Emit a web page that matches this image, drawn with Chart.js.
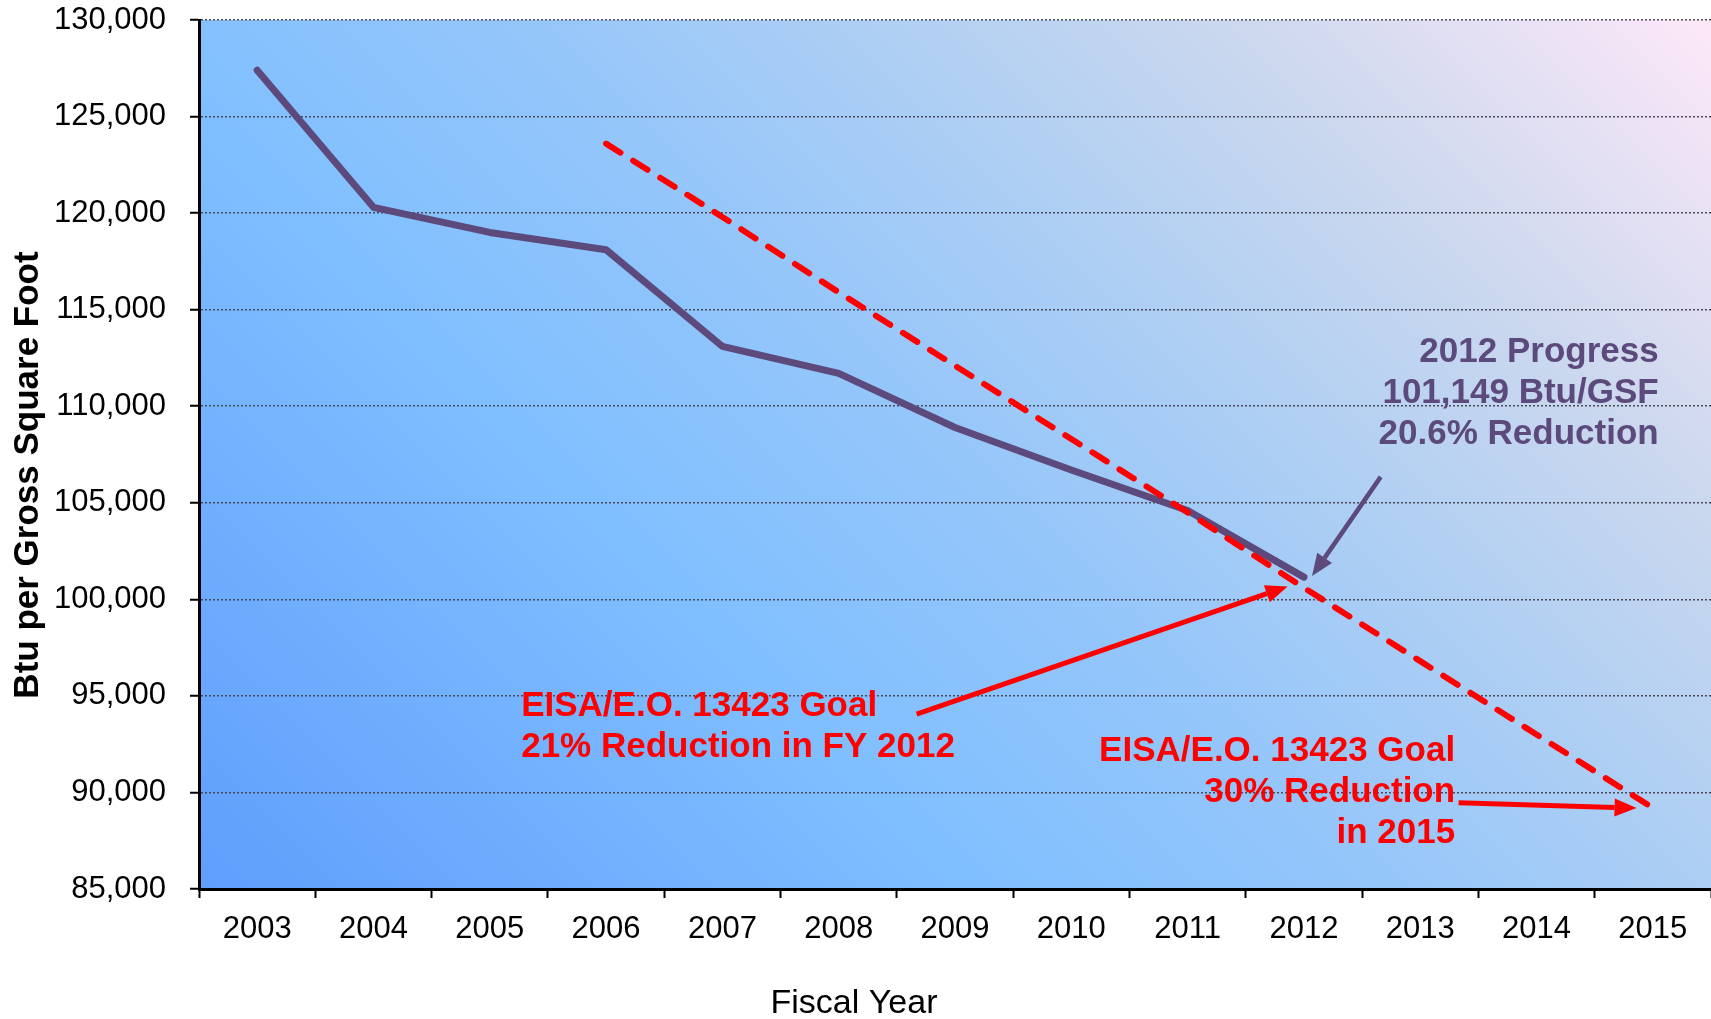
<!DOCTYPE html>
<html>
<head>
<meta charset="utf-8">
<script src="https://cdn.jsdelivr.net/npm/chart.js@4/dist/chart.umd.min.js"></script>
<style>
    body { margin: 0; background: #fff; }
    #wrap { width: 1711px; height: 1019px; position: relative; }
</style>
</head>
<body>
<div id="wrap"><canvas id="grafico"></canvas></div>
<script>
// Dados do gráfico
const anos = ['2003', '2004', '2005', '2006', '2007', '2008', '2009', '2010', '2011', '2012', '2013', '2014', '2015'];
const progresso = [127400, 120300, 119000, 118100, 113100, 111700, 108900, 106700, 104600, 101149, null, null, null];
const meta = [null, null, null, 123600, 119800, 115900, 112100, 108300, 104500, 100600, 96800, 93000, 89200];
const eixoY = { min: 85000, max: 130000, passo: 5000 };

const ROXO = '#5c4a7c';
const VERMELHO = '#ff0000';
const FONTE = '"Liberation Sans", Arial, sans-serif';

// Anotações em coordenadas de dados (índice da categoria, valor)
const textos = [
    { x: 12.05, y: 112780, align: 'right', cor: ROXO,
      linhas: ['2012 Progress', '101,149 Btu/GSF', '20.6% Reduction'] },
    { x: 2.27, y: 94440, align: 'left', cor: VERMELHO,
      linhas: ['EISA/E.O. 13423 Goal', '21% Reduction in FY 2012'] },
    { x: 10.3, y: 92150, align: 'right', cor: VERMELHO,
      linhas: ['EISA/E.O. 13423 Goal', '30% Reduction', 'in 2015'] }
];
const setas = [
    { de: [9.66, 106340], para: [9.07, 101210], cor: ROXO, largura: 4.5 },
    { de: [5.67, 94060], para: [8.86, 100660], cor: VERMELHO, largura: 5 },
    { de: [10.33, 89460], para: [11.86, 89190], cor: VERMELHO, largura: 5 }
];

// Fundo em degradê da área do gráfico
const fundoPlugin = {
    id: 'fundo',
    beforeDraw(chart) {
        const { ctx, chartArea: a } = chart;
        const d = (a.right - a.left + a.bottom - a.top) / 2;
        const g = ctx.createLinearGradient(a.left, a.bottom, a.left + d, a.bottom - d);
        g.addColorStop(0, '#5f9efc');
        g.addColorStop(0.33, '#80bfff');
        g.addColorStop(0.5, '#95c6fa');
        g.addColorStop(0.65, '#afcff3');
        g.addColorStop(0.8, '#ccd8ee');
        g.addColorStop(1, '#fde8f8');
        ctx.save();
        ctx.fillStyle = g;
        ctx.fillRect(a.left, a.top, a.right - a.left, a.bottom - a.top);
        ctx.restore();
    }
};

function desenharSeta(ctx, x1, y1, x2, y2, cor, largura) {
    const ang = Math.atan2(y2 - y1, x2 - x1);
    const comp = 22, abertura = 9;
    const bx = x2 - comp * Math.cos(ang), by = y2 - comp * Math.sin(ang);
    ctx.save();
    ctx.strokeStyle = cor;
    ctx.fillStyle = cor;
    ctx.lineWidth = largura;
    ctx.beginPath();
    ctx.moveTo(x1, y1);
    ctx.lineTo(bx, by);
    ctx.stroke();
    ctx.beginPath();
    ctx.moveTo(x2, y2);
    ctx.lineTo(bx + abertura * Math.sin(ang), by - abertura * Math.cos(ang));
    ctx.lineTo(bx - abertura * Math.sin(ang), by + abertura * Math.cos(ang));
    ctx.closePath();
    ctx.fill();
    ctx.restore();
}

// Títulos dos eixos, textos e setas
const anotacoesPlugin = {
    id: 'anotacoes',
    afterDraw(chart) {
        const { ctx, scales: { x, y } } = chart;
        ctx.save();
        ctx.textBaseline = 'middle';
        textos.forEach(t => {
            ctx.font = 'bold 35px ' + FONTE;
            ctx.fillStyle = t.cor;
            ctx.textAlign = t.align;
            const px = x.getPixelForValue(t.x);
            const py = y.getPixelForValue(t.y);
            t.linhas.forEach((l, i) => ctx.fillText(l, px, py + i * 41));
        });
        setas.forEach(s => desenharSeta(ctx,
            x.getPixelForValue(s.de[0]), y.getPixelForValue(s.de[1]),
            x.getPixelForValue(s.para[0]), y.getPixelForValue(s.para[1]),
            s.cor, s.largura));

        // Título do eixo X
        ctx.fillStyle = '#000';
        ctx.textAlign = 'center';
        ctx.font = '34px ' + FONTE;
        ctx.fillText('Fiscal Year', 854, 1004);

        // Título do eixo Y
        ctx.translate(28, 475);
        ctx.rotate(-Math.PI / 2);
        ctx.font = 'bold 35px ' + FONTE;
        ctx.fillText('Btu per Gross Square Foot', 0, 0);
        ctx.restore();
    }
};

new Chart(document.getElementById('grafico').getContext('2d'), {
    type: 'line',
    data: {
        labels: anos,
        datasets: [{
            label: 'Progresso',
            data: progresso,
            borderColor: ROXO,
            borderWidth: 7,
            borderCapStyle: 'round',
            borderJoinStyle: 'round',
            pointRadius: 0,
            tension: 0,
            order: 1
        }, {
            label: 'Meta EISA',
            data: meta,
            borderColor: VERMELHO,
            borderWidth: 6,
            borderDash: [17, 15],
            borderCapStyle: 'round',
            pointRadius: 0,
            tension: 0,
            order: 0
        }]
    },
    options: {
        responsive: true,
        maintainAspectRatio: false,
        animation: false,
        layout: { padding: { top: 20, left: 0, right: 0, bottom: 0 } },
        plugins: {
            legend: { display: false },
            tooltip: { enabled: false }
        },
        scales: {
            x: {
                offset: true,
                grid: {
                    offset: true,
                    drawOnChartArea: false,
                    tickLength: 9,
                    tickColor: '#000',
                    tickWidth: 2
                },
                border: { color: '#000', width: 3 },
                ticks: {
                    color: '#000',
                    padding: 13,
                    maxRotation: 0,
                    font: { family: FONTE, size: 31 }
                },
                afterFit(scale) {
                    scale.height = 130;
                    scale.paddingLeft = 0;
                    scale.paddingRight = 0;
                }
            },
            y: {
                min: eixoY.min,
                max: eixoY.max,
                grid: {
                    color: '#4a4a5a',
                    lineWidth: 1.5,
                    tickLength: 9,
                    tickColor: '#000',
                    tickWidth: 2
                },
                border: { color: '#000', width: 3, dash: [2, 2] },
                ticks: {
                    stepSize: eixoY.passo,
                    color: '#000',
                    padding: 24,
                    font: { family: FONTE, size: 31 },
                    callback: v => v.toLocaleString('en-US')
                },
                afterFit(scale) {
                    scale.width = 199;
                    scale.paddingTop = 0;
                    scale.paddingBottom = 0;
                }
            }
        }
    },
    plugins: [fundoPlugin, anotacoesPlugin]
});
</script>
</body>
</html>
